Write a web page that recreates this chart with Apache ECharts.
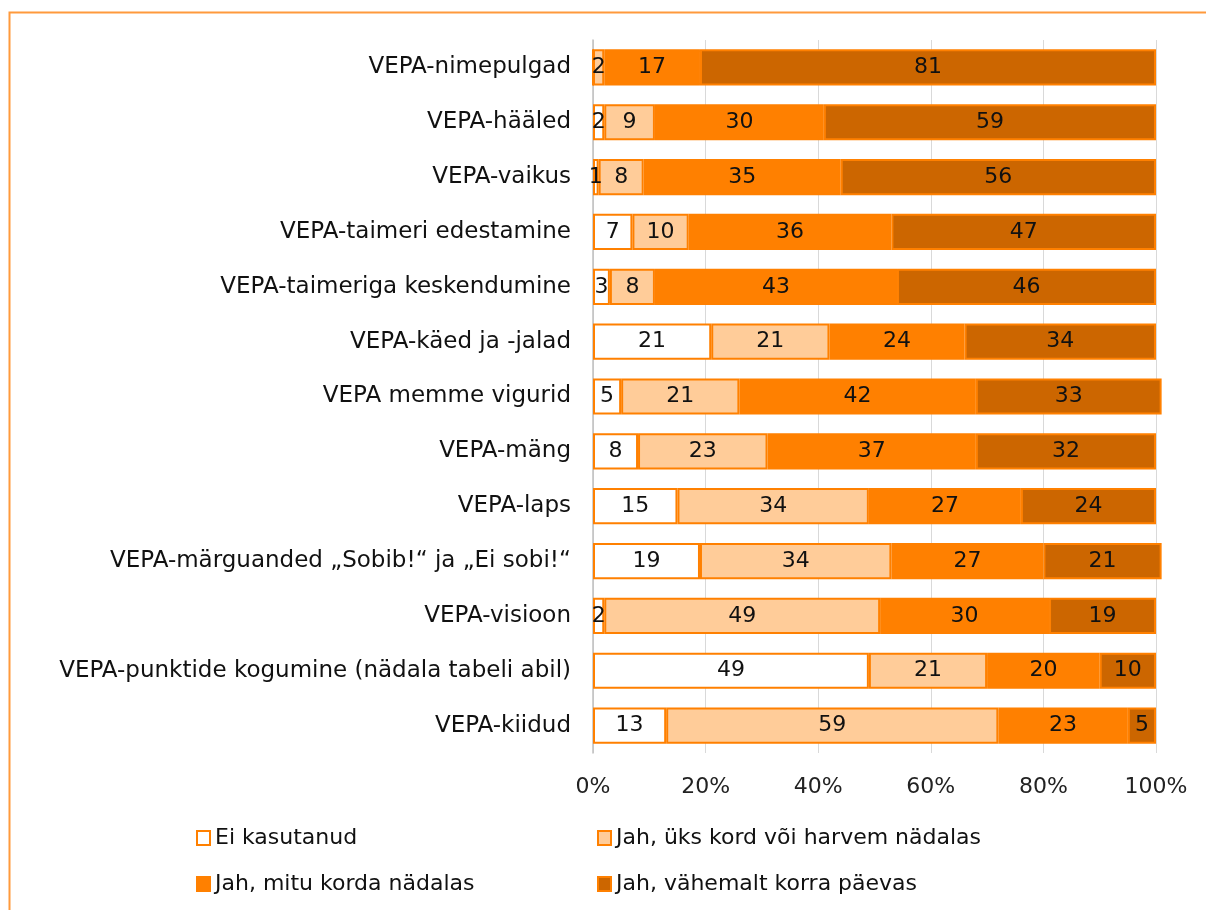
<!DOCTYPE html>
<html>
<head>
<meta charset="utf-8">
<script src="https://cdn.jsdelivr.net/npm/echarts@6/dist/echarts.min.js"></script>
<style>
    html, body { margin: 0; padding: 0; background: #fff; }
    #chart { width: 1206px; height: 910px; }
</style>
</head>
<body>
<div id="chart"></div>
<script>
// kategooriad ülevalt alla
var categories = [
    'VEPA-nimepulgad',
    'VEPA-hääled',
    'VEPA-vaikus',
    'VEPA-taimeri edestamine',
    'VEPA-taimeriga keskendumine',
    'VEPA-käed ja -jalad',
    'VEPA memme vigurid',
    'VEPA-mäng',
    'VEPA-laps',
    'VEPA-märguanded „Sobib!“ ja „Ei sobi!“',
    'VEPA-visioon',
    'VEPA-punktide kogumine (nädala tabeli abil)',
    'VEPA-kiidud'
];
var seriesNames = [
    'Ei kasutanud',
    'Jah, üks kord või harvem nädalas',
    'Jah, mitu korda nädalas',
    'Jah, vähemalt korra päevas'
];
var eiKasutanud = [0, 2, 1, 7, 3, 21, 5, 8, 15, 19, 2, 49, 13];
var harvem      = [2, 9, 8, 10, 8, 21, 21, 23, 34, 34, 49, 21, 59];
var mituKorda   = [17, 30, 35, 36, 43, 24, 42, 37, 27, 27, 30, 20, 23];
var igaPaev     = [81, 59, 56, 47, 46, 34, 33, 32, 24, 21, 19, 10, 5];
var xTicks = [0, 20, 40, 60, 80, 100];

var colors = ['#FFFFFF', '#FFCC99', '#FF8000', '#CC6600'];
var values = [eiKasutanud, harvem, mituKorda, igaPaev];
var FONT = 'DejaVu Sans';

var chart = echarts.init(document.getElementById('chart'));

var series = values.map(function (arr, i) {
    return {
        name: seriesNames[i],
        type: 'bar',
        stack: 'kokku',
        barWidth: '66%',
        clip: false,
        data: arr,
        itemStyle: {
            color: colors[i],
            borderColor: '#FF8000',
            borderWidth: 2
        },
        label: {
            show: true,
            position: 'inside',
            color: '#111',
            fontFamily: FONT,
            fontSize: 22,
            formatter: function (p) { return p.value === 0 ? '' : p.value; }
        }
    };
});

var legendText = { fontFamily: FONT, fontSize: 22, color: '#111' };

var option = {
    animation: false,
    backgroundColor: '#fff',
    graphic: [{
        type: 'rect',
        left: 7, top: 10,
        shape: { width: 1230, height: 930 },
        style: { fill: 'none', stroke: '#FF9A3C', lineWidth: 2 },
        z: -1
    }],
    legend: [{
        data: [seriesNames[0], seriesNames[2]],
        orient: 'vertical',
        left: 196, top: 827, padding: 0,
        itemWidth: 13, itemHeight: 14, itemGap: 24,
        icon: 'rect',
        textStyle: legendText
    }, {
        data: [seriesNames[1], seriesNames[3]],
        orient: 'vertical',
        left: 597, top: 827, padding: 0,
        itemWidth: 13, itemHeight: 14, itemGap: 24,
        icon: 'rect',
        textStyle: legendText
    }],
    grid: {
        left: 593, right: 50, top: 40, bottom: 157,
        containLabel: false,
        outerBoundsMode: 'none'
    },
    xAxis: {
        type: 'value',
        min: 0, max: 100, interval: 20,
        axisLine: { show: false },
        axisTick: { show: false },
        splitLine: { lineStyle: { color: '#D9D9D9', width: 1 } },
        axisLabel: {
            margin: 23,
            color: '#222',
            fontFamily: FONT,
            fontSize: 22,
            formatter: function (v) { return xTicks.indexOf(v) >= 0 ? v + '%' : ''; }
        }
    },
    yAxis: {
        type: 'category',
        inverse: true,
        data: categories,
        axisLine: { lineStyle: { color: '#BFBFBF', width: 1.5 } },
        axisTick: { show: false },
        axisLabel: {
            margin: 22,
            color: '#111',
            fontFamily: FONT,
            fontSize: 23
        }
    },
    series: series
};

chart.setOption(option);
</script>
</body>
</html>
